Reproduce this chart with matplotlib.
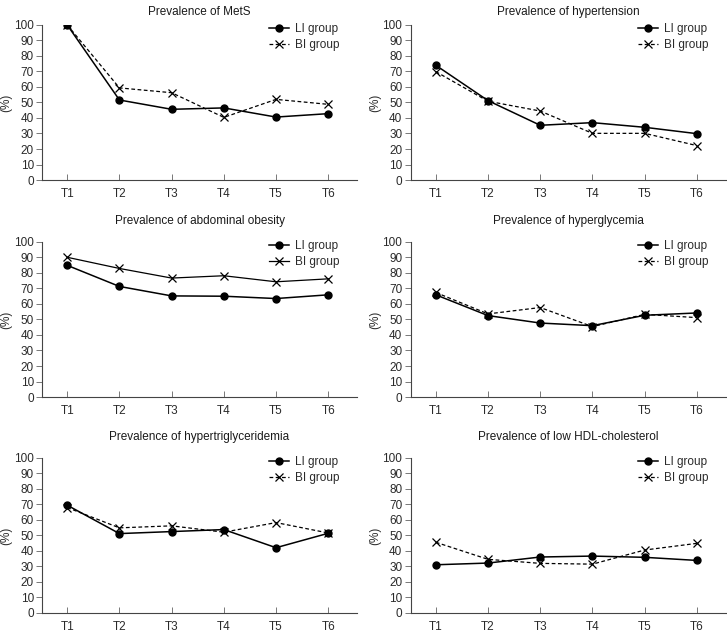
import matplotlib
matplotlib.use("Agg")
import matplotlib.pyplot as plt

plt.rcParams['font.family'] = ['Liberation Sans', 'DejaVu Sans']

times = ["T1", "T2", "T3", "T4", "T5", "T6"]

titles = [
    "Prevalence of MetS",
    "Prevalence of hypertension",
    "Prevalence of abdominal obesity",
    "Prevalence of hyperglycemia",
    "Prevalence of hypertriglyceridemia",
    "Prevalence of low HDL-cholesterol",
]

# LI group values (%)
li_mets = [100, 51.6, 45.6, 46.5, 40.6, 42.8]
li_htn = [74.0, 51.2, 35.3, 37.0, 34.0, 29.9]
li_abd = [84.9, 71.3, 65.2, 65.0, 63.5, 65.9]
li_glu = [65.9, 52.5, 47.7, 46.0, 52.7, 54.2]
li_tg = [69.5, 51.2, 52.5, 53.8, 42.1, 51.4]
li_hdl = [31.1, 32.2, 36.1, 36.7, 35.9, 33.9]

# BI group values (%)
bi_mets = [100, 59.4, 56.3, 40.4, 52.0, 48.8]
bi_htn = [69.9, 50.8, 44.5, 30.1, 30.1, 22.2]
bi_abd = [90.1, 82.9, 76.7, 78.2, 74.3, 76.2]
bi_glu = [67.4, 53.6, 57.7, 45.4, 53.3, 51.2]
bi_tg = [68.0, 54.9, 56.2, 52.1, 58.3, 51.6]
bi_hdl = [45.6, 34.6, 32.0, 31.5, 40.6, 44.9]

li_all = [li_mets, li_htn, li_abd, li_glu, li_tg, li_hdl]
bi_all = [bi_mets, bi_htn, bi_abd, bi_glu, bi_tg, bi_hdl]
# in the abdominal obesity panel the BI line is drawn solid
bi_solid = [False, False, True, False, False, False]

fig = plt.figure(figsize=(7.27, 6.33), dpi=100)

lefts = [0.058, 0.565]
bottoms = [0.7156, 0.3728, 0.0316]
title_pads = [7, 13, 13]
w, h = 0.433, 0.245
ink = "#2a2a2a"

x = list(range(len(times)))
for i in range(6):
    row, col = divmod(i, 2)
    ax = fig.add_axes([lefts[col], bottoms[row], w, h])

    ax.plot(x, li_all[i], color="black", lw=1.1, marker="o", ms=5,
            label="LI group")
    bi_line, = ax.plot(x, bi_all[i], color="black", lw=0.9,
                       marker="x", ms=6, mew=0.9, label="BI group")
    if not bi_solid[i]:
        bi_line.set_dashes((3, 2))

    ax.set_xlim(-0.48, 5.55)
    ax.set_ylim(0, 100)
    ax.set_yticks(range(0, 101, 10))
    ax.set_xticks(x)
    ax.set_xticklabels(times)
    ax.tick_params(labelsize=8.5, width=0.7, colors="#777777",
                   labelcolor=ink)
    ax.tick_params(axis="y", length=4, pad=2)
    ax.tick_params(axis="x", direction="in", length=4, pad=6)
    for s in ["top", "right"]:
        ax.spines[s].set_visible(False)
    for s in ["left", "bottom"]:
        ax.spines[s].set_linewidth(0.8)
        ax.spines[s].set_color("#444444")

    ax.set_ylabel("(%)", fontsize=8.5, color=ink)
    ax.yaxis.set_label_coords(-0.095, 0.5)
    ax.set_title(titles[i], fontsize=8.5, pad=title_pads[row], color="#1a1a1a")
    leg = ax.legend(loc="upper right", frameon=False, fontsize=8.5,
                    handlelength=1.7, handletextpad=0.5, borderaxespad=0.0,
                    labelspacing=0.35, bbox_to_anchor=(0.96, 1.045))
    for t in leg.get_texts():
        t.set_color(ink)

fig.savefig("out.png", dpi=100)
